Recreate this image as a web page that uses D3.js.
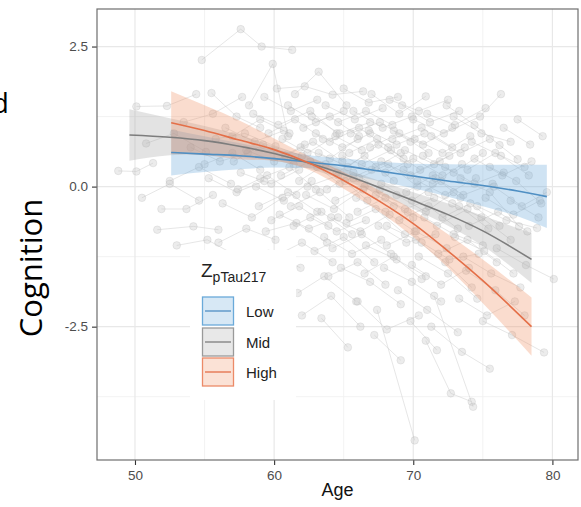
<!DOCTYPE html>
<html>
<head>
<meta charset="utf-8">
<script src="https://cdn.jsdelivr.net/npm/d3@7"></script>
<style>
  html, body { margin: 0; padding: 0; background: #fff; }
  svg { display: block; }
</style>
</head>
<body>
<svg id="chart" width="581" height="507"></svg>
<script>
// ---------------- DATA ----------------
const xTicks = [50, 60, 70, 80];
const xMinor = [55, 65, 75];
const yTicks = [2.5, 0.0, -2.5];
const yTickLabels = ["2.5", "0.0", "-2.5"];
const yMinor = [1.25, -1.25, -3.75];

const groups = ["Low", "Mid", "High"];

// fitted curves [age, estimate, lower, upper]
const lowFit = [
  [52.6, 0.61, 0.20, 1.02], [55, 0.58, 0.26, 0.90], [57.5, 0.55, 0.31, 0.78],
  [60, 0.50, 0.34, 0.66], [62.5, 0.44, 0.33, 0.56], [65, 0.37, 0.23, 0.50],
  [67.5, 0.28, 0.10, 0.45], [70, 0.19, -0.03, 0.41], [72.5, 0.10, -0.18, 0.40],
  [75, 0.02, -0.35, 0.39], [77.5, -0.08, -0.53, 0.39], [79.6, -0.18, -0.74, 0.39]
];
const midFit = [
  [49.6, 0.92, 0.46, 1.38], [52.5, 0.88, 0.56, 1.22], [55, 0.82, 0.58, 1.08],
  [57.5, 0.72, 0.53, 0.92], [60, 0.59, 0.46, 0.72], [62.5, 0.42, 0.32, 0.52],
  [65, 0.22, 0.12, 0.32], [67.5, -0.01, -0.13, 0.11], [70, -0.25, -0.40, -0.10],
  [72.5, -0.50, -0.70, -0.30], [75, -0.79, -1.06, -0.52], [78.5, -1.30, -1.72, -0.83]
];
const highFit = [
  [52.6, 1.14, 0.58, 1.70], [55, 1.00, 0.56, 1.45], [57.5, 0.83, 0.49, 1.18],
  [60, 0.66, 0.46, 0.86], [62.5, 0.42, 0.30, 0.54], [65, 0.11, -0.04, 0.26],
  [67.5, -0.25, -0.44, -0.06], [70, -0.66, -0.90, -0.42], [72.5, -1.15, -1.45, -0.85],
  [75, -1.68, -2.08, -1.30], [78.5, -2.50, -3.02, -1.98]
];

// individual trajectories: [age, cognition, age, cognition, ...]
const subjects = [
  [48.8,0.28, 50.1,0.27, 51.3,0.42],
  [50.1,1.43, 52.3,1.44, 54.4,1.65],
  [50.8,0.77, 52.8,0.95, 55.1,0.62],
  [51.9,-0.40, 53.7,-0.40, 55.6,-0.15],
  [51.6,-0.77, 54.2,-0.71, 56.0,-0.77],
  [54.8,2.26, 57.6,2.81, 59.1,2.50, 61.3,2.44],
  [58.2,1.45, 59.9,2.19, 61.0,0.90],
  [55.5,1.67, 57.3,1.25, 59.0,1.05],
  [52.5,0.10, 54.6,0.35, 56.9,0.05],
  [53.0,-1.05, 55.2,-0.95, 57.4,-1.25],
  [55.8,0.85, 57.9,0.95, 60.1,0.72, 62.0,0.55],
  [56.3,-0.30, 58.4,-0.55, 60.6,-0.20],
  [57.1,0.45, 59.2,0.75, 61.4,0.40],
  [57.8,-1.55, 59.6,-1.20, 61.9,-1.45],
  [58.5,1.30, 60.3,1.10, 62.6,1.35, 64.5,0.95],
  [59.0,0.15, 61.1,0.35, 63.0,-0.05],
  [59.4,-0.80, 61.6,-0.65, 63.8,-1.00],
  [60.2,1.75, 62.2,1.79, 64.2,1.64, 66.4,1.70],
  [60.8,0.55, 62.8,0.80, 64.9,0.45],
  [61.2,-0.35, 63.3,-0.10, 65.4,-0.55],
  [61.7,-1.90, 63.6,-1.60, 65.9,-2.05],
  [62.1,1.05, 64.0,1.25, 66.1,0.90],
  [62.4,0.00, 64.6,0.20, 66.7,-0.25],
  [62.9,-1.15, 65.0,-0.90, 67.2,-1.35],
  [63.2,0.60, 65.3,0.35, 67.5,0.75, 69.6,0.40],
  [63.7,1.45, 65.8,1.20, 67.8,1.40],
  [64.1,-0.55, 66.2,-0.80, 68.3,-0.50],
  [64.5,0.25, 66.5,0.55, 68.6,0.10],
  [64.8,-1.45, 66.9,-1.70, 69.1,-2.10],
  [63.4,-2.35, 65.3,-2.87],
  [65.5,0.95, 67.6,1.15, 69.8,0.80],
  [65.9,-0.20, 68.0,-0.45, 70.1,-0.80],
  [66.3,0.40, 68.4,0.65, 70.5,0.30, 72.6,0.55],
  [66.6,-1.05, 68.8,-1.30, 70.9,-1.60],
  [67.0,1.65, 69.0,1.30, 70.9,1.61],
  [67.4,-2.20, 70.1,-4.53],
  [67.7,0.05, 69.9,-0.25, 72.0,0.10],
  [68.1,-0.70, 70.2,-0.95, 72.3,-1.35, 74.2,-1.80],
  [68.5,0.85, 70.6,1.05, 72.8,0.70],
  [68.9,-1.85, 71.0,-2.20, 73.2,-2.60],
  [69.3,0.30, 71.4,0.05, 73.5,0.40],
  [69.6,-0.45, 71.7,-0.70, 73.9,-0.40],
  [70.0,1.20, 72.2,0.95, 74.8,1.25, 76.3,1.65],
  [70.4,-1.25, 72.5,-1.55, 74.6,-2.00],
  [70.7,0.55, 72.9,0.25, 75.0,0.60],
  [71.1,-0.10, 73.3,-0.35, 75.4,-0.75],
  [69.8,-2.40, 71.7,-2.92],
  [70.9,-2.75, 72.7,-3.69, 74.2,-3.84],
  [71.5,-1.95, 74.3,-3.93],
  [72.4,1.45, 74.4,1.10, 76.2,0.74, 77.5,0.49],
  [73.0,-0.90, 75.1,-1.15, 77.2,-1.55],
  [73.4,0.15, 75.5,-0.10, 77.6,-0.71],
  [73.8,-1.50, 75.9,-1.85, 78.0,-2.30],
  [74.2,0.80, 76.3,0.55, 78.3,0.20],
  [74.6,-0.35, 76.7,-0.60, 78.9,-0.74],
  [75.0,-2.40, 77.1,-2.65, 79.4,-2.96],
  [75.5,0.35, 77.4,0.10, 79.2,-0.30],
  [76.0,-1.10, 78.1,-1.40, 80.1,-1.65],
  [76.5,1.05, 78.4,0.75],
  [77.0,-0.25, 79.0,-0.55],
  [55.0,0.40, 57.0,0.60, 59.0,0.30],
  [56.5,1.05, 58.6,0.80, 60.7,1.00],
  [57.4,-0.05, 59.5,0.20, 61.6,-0.15],
  [58.0,0.65, 60.0,0.45, 62.2,0.75],
  [58.9,-0.35, 61.0,-0.10, 63.1,-0.45],
  [59.6,0.95, 61.5,1.20, 63.5,0.85],
  [60.0,-1.25, 62.0,-1.00, 64.2,-1.35],
  [60.5,0.20, 62.6,0.45, 64.7,0.05],
  [61.0,1.45, 63.0,1.15, 65.0,1.35],
  [61.4,-0.70, 63.4,-0.45, 65.6,-0.85],
  [61.9,0.70, 64.0,0.50, 66.0,0.85],
  [62.3,-0.15, 64.3,-0.40, 66.4,-0.05],
  [62.7,1.25, 64.7,0.95, 66.9,1.15],
  [63.1,0.35, 65.1,0.10, 67.3,0.35],
  [63.6,-0.90, 65.6,-1.20, 67.7,-0.95],
  [64.0,0.80, 66.1,1.05, 68.2,0.70],
  [64.4,-0.25, 66.5,0.00, 68.6,-0.35],
  [64.9,0.55, 67.0,0.30, 69.1,0.60],
  [65.2,-0.65, 67.3,-0.40, 69.4,-0.85],
  [65.7,1.35, 67.8,1.05, 69.9,1.25],
  [66.1,0.15, 68.2,0.40, 70.3,0.00],
  [66.5,-1.55, 68.6,-1.25, 70.6,-1.65],
  [66.9,0.70, 69.0,0.95, 71.1,0.60],
  [67.3,-0.15, 69.4,-0.40, 71.5,-0.20],
  [67.7,0.45, 69.8,0.20, 71.9,0.45],
  [68.1,-1.05, 70.2,-0.80, 72.4,-1.10],
  [68.6,1.00, 70.7,0.75, 72.8,1.05],
  [69.0,-0.60, 71.1,-0.35, 73.2,-0.75],
  [69.4,0.65, 71.5,0.40, 73.7,0.70],
  [69.9,-1.40, 72.0,-1.75, 74.0,-1.45],
  [70.3,0.10, 72.3,-0.15, 74.5,0.15],
  [70.8,-0.55, 72.9,-0.85, 75.0,-1.05],
  [71.3,0.90, 73.4,0.60, 75.5,0.85],
  [71.8,-1.20, 73.9,-0.95, 76.0,-1.35],
  [72.3,0.35, 74.4,0.05, 76.5,0.25],
  [72.8,-0.30, 74.9,-0.55, 77.0,-0.95],
  [73.3,-2.00, 75.3,-2.30, 77.3,-2.05],
  [54.0,0.70, 56.1,0.45, 58.1,0.60],
  [53.5,1.15, 55.6,1.30, 57.7,1.60],
  [56.0,-1.00, 58.0,-0.75, 60.1,-0.95],
  [57.6,0.25, 59.8,0.05, 61.8,0.30],
  [60.4,-0.50, 62.5,-0.75, 64.6,-0.55],
  [62.0,-2.30, 64.1,-1.95, 66.2,-2.50],
  [63.9,-1.60, 66.0,-1.35, 68.0,-1.75],
  [66.0,-2.05, 68.1,-2.55, 70.4,-2.30],
  [68.3,1.55, 70.4,1.35, 72.5,1.55],
  [71.0,1.30, 73.0,1.10, 75.2,1.40],
  [74.0,-0.70, 76.1,-0.45, 78.2,-0.80],
  [75.8,0.00, 77.8,-0.35, 79.6,-0.10],
  [50.5,-0.20, 52.5,0.05, 54.6,-0.25],
  [77.5,1.20, 79.3,0.90],
  [65.0,1.75, 66.8,1.50, 68.9,1.60],
  [61.5,1.65, 63.2,2.05, 65.2,1.45],
  [67.2,-2.65, 69.1,-3.10],
  [71.3,-2.50, 73.5,-2.95, 75.5,-3.25],
  [59.3,1.60, 61.2,1.35, 63.1,1.55],
  [60.6,0.85, 62.4,0.60, 64.4,0.90, 66.3,0.65],
  [61.8,0.10, 63.7,0.40, 65.7,0.15],
  [62.6,-0.55, 64.5,-0.80, 66.6,-0.60],
  [63.0,0.95, 64.9,0.70, 66.9,0.95],
  [63.8,-0.05, 65.7,0.25, 67.6,-0.05],
  [64.6,1.15, 66.6,1.35, 68.5,1.10],
  [65.4,0.60, 67.4,0.85, 69.3,0.50],
  [66.0,-0.45, 68.0,-0.20, 70.0,-0.55],
  [66.8,1.00, 68.8,0.75, 70.8,0.95],
  [67.5,-0.70, 69.5,-1.00, 71.6,-0.85],
  [68.0,0.25, 70.0,0.50, 72.1,0.20],
  [68.8,-0.15, 70.9,-0.45, 72.9,-0.10],
  [69.2,1.45, 71.2,1.15, 73.3,1.35],
  [70.1,0.85, 72.1,0.60, 74.1,0.90],
  [70.6,-1.00, 72.6,-1.30, 74.7,-1.20],
  [71.6,0.15, 73.6,-0.15, 75.7,0.05],
  [72.1,-0.55, 74.1,-0.30, 76.2,-0.70],
  [72.9,1.25, 74.9,0.95, 77.0,0.80],
  [73.6,-1.25, 75.6,-1.55, 77.7,-1.80],
  [74.4,0.50, 76.4,0.20, 78.5,0.45],
  [75.2,-0.20, 77.2,-0.50, 79.1,-0.25],
  [58.7,0.00, 60.7,-0.25, 62.7,0.10],
  [57.0,0.90, 59.0,1.20, 61.1,0.95],
  [59.8,-0.60, 61.8,-0.35, 63.9,-0.70],
  [55.3,0.15, 57.3,-0.10, 59.3,0.10],
  [64.2,-1.10, 66.3,-0.85, 68.4,-1.20],
  [67.9,-1.45, 69.9,-1.70, 72.0,-2.05],
  [69.5,-0.10, 71.4,0.20, 73.4,-0.20],
  [73.9,0.30, 75.9,0.60, 78.0,0.35]
];

// ---------------- STYLE ----------------
const colors = {
  Low:  { line: "#4f8fc3", fill: "#5fa3d8", key: "#6aaad9" },
  Mid:  { line: "#7d7d7d", fill: "#a3a3a3", key: "#9a9a9a" },
  High: { line: "#e46f48", fill: "#f08a5d", key: "#ec8a68" }
};
const fits = { Low: lowFit, Mid: midFit, High: highFit };

const svg = d3.select("#chart");
const pL = 97, pR = 578, pT = 9, pB = 460;

const x = d3.scaleLinear().domain([47.27, 81.84]).range([pL, pR]);
const y = d3.scaleLinear().domain([-4.88, 3.17]).range([pB, pT]);

svg.append("clipPath").attr("id", "panel")
  .append("rect").attr("x", pL).attr("y", pT)
  .attr("width", pR - pL).attr("height", pB - pT);

// grid
const grid = svg.append("g");
grid.selectAll(".vmin").data(xMinor).join("line")
  .attr("x1", d => x(d)).attr("x2", d => x(d)).attr("y1", pT).attr("y2", pB)
  .attr("stroke", "#efefef").attr("stroke-width", 0.8);
grid.selectAll(".hmin").data(yMinor).join("line")
  .attr("y1", d => y(d)).attr("y2", d => y(d)).attr("x1", pL).attr("x2", pR)
  .attr("stroke", "#efefef").attr("stroke-width", 0.8);
grid.selectAll(".vmaj").data(xTicks).join("line")
  .attr("x1", d => x(d)).attr("x2", d => x(d)).attr("y1", pT).attr("y2", pB)
  .attr("stroke", "#e8e8e8").attr("stroke-width", 1.2);
grid.selectAll(".hmaj").data(yTicks).join("line")
  .attr("y1", d => y(d)).attr("y2", d => y(d)).attr("x1", pL).attr("x2", pR)
  .attr("stroke", "#e8e8e8").attr("stroke-width", 1.2);

// spaghetti
const traj = subjects.map(s => {
  const pts = [];
  for (let i = 0; i < s.length; i += 2) pts.push([s[i], s[i + 1]]);
  return pts;
});
const plot = svg.append("g").attr("clip-path", "url(#panel)");
const lineGen = d3.line().x(d => x(d[0])).y(d => y(d[1]));
plot.append("g").selectAll("path").data(traj).join("path")
  .attr("d", lineGen).attr("fill", "none")
  .attr("stroke", "#c8c8c8").attr("stroke-opacity", 0.5).attr("stroke-width", 0.9);
plot.append("g").selectAll("circle").data(traj.flat()).join("circle")
  .attr("cx", d => x(d[0])).attr("cy", d => y(d[1])).attr("r", 3.8)
  .attr("fill", "#c4c4c4").attr("fill-opacity", 0.33)
  .attr("stroke", "#b0b0b0").attr("stroke-opacity", 0.3).attr("stroke-width", 0.8);

// ribbons
const area = d3.area().curve(d3.curveMonotoneX)
  .x(d => x(d[0])).y0(d => y(d[2])).y1(d => y(d[3]));
const fitLine = d3.line().curve(d3.curveMonotoneX)
  .x(d => x(d[0])).y(d => y(d[1]));
groups.forEach(g => {
  plot.append("path").datum(fits[g]).attr("d", area)
    .attr("fill", colors[g].fill).attr("fill-opacity", 0.3);
});
groups.forEach(g => {
  plot.append("path").datum(fits[g]).attr("d", fitLine)
    .attr("fill", "none").attr("stroke", colors[g].line).attr("stroke-width", 1.6);
});

// axes
const xAxis = svg.append("g").attr("transform", `translate(0,${pB})`)
  .call(d3.axisBottom(x).tickValues(xTicks).tickSize(5).tickPadding(5).tickFormat(d3.format("d")));
const yAxis = svg.append("g").attr("transform", `translate(${pL},0)`)
  .call(d3.axisLeft(y).tickValues(yTicks).tickSize(5).tickPadding(4)
    .tickFormat((d, i) => yTickLabels[i]));
[xAxis, yAxis].forEach(a => {
  a.select(".domain").remove();
  a.selectAll(".tick line").attr("stroke", "#333").attr("stroke-width", 1.1);
  a.selectAll(".tick text").attr("fill", "#4d4d4d")
    .style("font-family", "'Liberation Sans', Arial, sans-serif").style("font-size", "13.5px");
});

// panel border
svg.append("rect").attr("x", pL).attr("y", pT)
  .attr("width", pR - pL).attr("height", pB - pT)
  .attr("fill", "none").attr("stroke", "#6e6e6e").attr("stroke-width", 1.2);

// axis titles
svg.append("text").attr("x", (pL + pR) / 2).attr("y", 496)
  .attr("text-anchor", "middle").attr("fill", "#111")
  .style("font-family", "'Liberation Sans', Arial, sans-serif").style("font-size", "18px")
  .text("Age");
svg.append("text").attr("transform", "translate(42,268) rotate(-90)")
  .attr("text-anchor", "middle").attr("fill", "#000")
  .style("font-family", "'Open Sans', 'Noto Sans', sans-serif").style("font-size", "31px")
  .text("Cognition");
svg.append("text").attr("x", 9).attr("y", 113).attr("text-anchor", "end").attr("fill", "#000")
  .style("font-family", "'Open Sans', 'Noto Sans', sans-serif").style("font-size", "28px")
  .text("d");

// legend
const lg = svg.append("g");
lg.append("rect").attr("x", 190).attr("y", 250).attr("width", 106).attr("height", 150)
  .attr("fill", "#fff");
const title = lg.append("text").attr("x", 201).attr("y", 277)
  .style("font-family", "'Liberation Sans', Arial, sans-serif").attr("fill", "#222");
title.append("tspan").style("font-size", "19px").text("Z");
title.append("tspan").attr("dy", 5).style("font-size", "14px").text("pTau217");
const keyY = { Low: 297, Mid: 328, High: 358 };
groups.forEach(g => {
  const ky = keyY[g];
  lg.append("rect").attr("x", 202.5).attr("y", ky).attr("width", 31).attr("height", 28)
    .attr("fill", colors[g].fill).attr("fill-opacity", 0.25)
    .attr("stroke", colors[g].key).attr("stroke-width", 1.3);
  lg.append("line").attr("x1", 205).attr("x2", 231).attr("y1", ky + 14).attr("y2", ky + 14)
    .attr("stroke", colors[g].line).attr("stroke-width", 1.3);
  lg.append("text").attr("x", 246).attr("y", ky + 19.5).attr("fill", "#222")
    .style("font-family", "'Liberation Sans', Arial, sans-serif").style("font-size", "15px")
    .text(g);
});
</script>
</body>
</html>
